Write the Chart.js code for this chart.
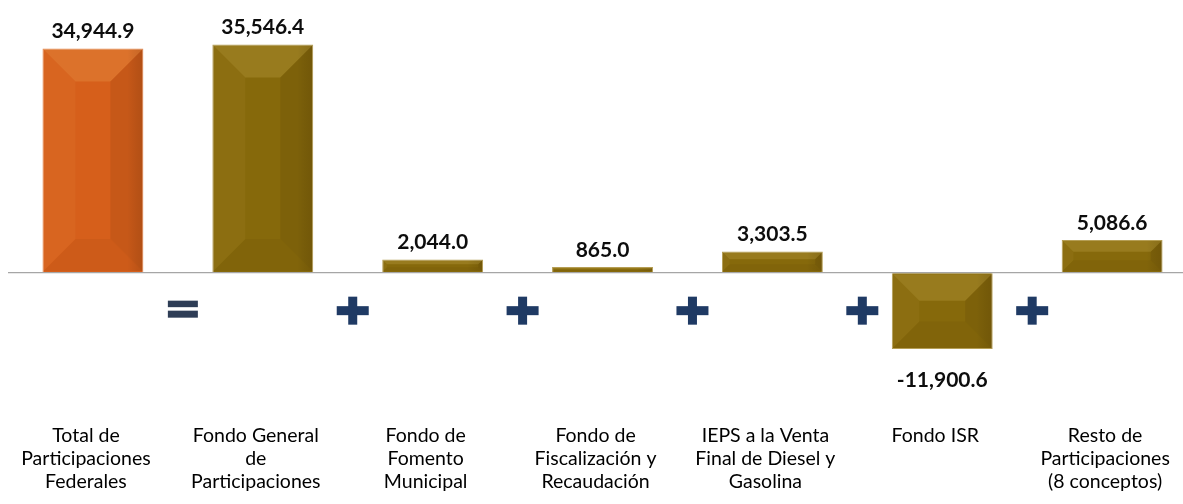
<!DOCTYPE html>
<html><head><meta charset="utf-8">
<script src="https://cdn.jsdelivr.net/npm/chart.js@4.4.1/dist/chart.umd.min.js"></script>
<style>
html,body{margin:0;padding:0;background:#fff;overflow:hidden;width:1183px;height:504px}
#wrap{position:absolute;left:0;top:0;width:1200px;height:504px}
</style></head>
<body><div id="wrap"><canvas id="c" width="1200" height="504"></canvas></div>
<script>
const categories = [
  ['Total de', 'Participaciones', 'Federales'],
  ['Fondo General', 'de', 'Participaciones'],
  ['Fondo de', 'Fomento', 'Municipal'],
  ['Fondo de', 'Fiscalización y', 'Recaudación'],
  ['IEPS a la Venta', 'Final de Diesel y', 'Gasolina'],
  ['Fondo ISR'],
  ['Resto de', 'Participaciones', '(8 conceptos)']
];
const values = [34944.9, 35546.4, 2044.0, 865.0, 3303.5, -11900.6, 5086.6];
const operators = ['=', '+', '+', '+', '+', '+'];
const yMin = -20000, yMax = 40000;

const ORANGE = '#D65F1B', GOLD = '#86690B';
const barColors = values.map((v, i) => i === 0 ? ORANGE : GOLD);
const barBorders = values.map((v, i) => i === 0 ? '#E5864C' : '#B59E55');

const fmt = v => v.toLocaleString('en-US', {minimumFractionDigits: 1, maximumFractionDigits: 1});

const bevelPlugin = {
  id: 'bevel',
  afterDatasetsDraw(chart) {
    const ctx = chart.ctx;
    const meta = chart.getDatasetMeta(0);
    meta.data.forEach((bar) => {
      const p = bar.getProps(['x', 'y', 'base', 'width'], true);
      const l = p.x - p.width / 2 + 1, r = p.x + p.width / 2 - 1;
      const t = Math.min(p.y, p.base) + 1, b = Math.max(p.y, p.base) - 1;
      const h = b - t;
      const bv = Math.min(h * 0.36, 32, p.width / 2);
      const poly = (pts, color) => {
        ctx.beginPath();
        ctx.moveTo(pts[0][0], pts[0][1]);
        for (let k = 1; k < pts.length; k++) ctx.lineTo(pts[k][0], pts[k][1]);
        ctx.closePath();
        ctx.fillStyle = color;
        ctx.fill();
      };
      ctx.save();
      poly([[l, t], [r, t], [r - bv, t + bv], [l + bv, t + bv]], 'rgba(255,225,140,0.15)');
      poly([[l, t], [l + bv, t + bv], [l + bv, b - bv], [l, b]], 'rgba(255,225,140,0.05)');
      poly([[r, t], [r, b], [r - bv, b - bv], [r - bv, t + bv]], 'rgba(40,20,0,0.09)');
      poly([[l, b], [l + bv, b - bv], [r - bv, b - bv], [r, b]], 'rgba(40,20,0,0.05)');
      const g = ctx.createLinearGradient(l, 0, r, 0);
      g.addColorStop(0, 'rgba(0,0,0,0)');
      g.addColorStop(0.85, 'rgba(0,0,0,0)');
      g.addColorStop(1, 'rgba(40,20,0,0.12)');
      ctx.fillStyle = g;
      ctx.fillRect(l, t, r - l, b - t);
      ctx.restore();
    });
  }
};

const labelPlugin = {
  id: 'valueLabels',
  afterDatasetsDraw(chart) {
    const ctx = chart.ctx;
    const meta = chart.getDatasetMeta(0);
    ctx.save();
    ctx.font = 'bold 21px Lato';
    ctx.fillStyle = '#0D0D0D';
    ctx.textAlign = 'center';
    ctx.textBaseline = 'middle';
    meta.data.forEach((bar, i) => {
      const v = values[i];
      const p = bar.getProps(['x', 'y'], true);
      const yy = v >= 0 ? p.y - 17 : p.y + 31;
      ctx.fillText(fmt(v), p.x, yy);
    });
    ctx.restore();
  }
};

const opPlugin = {
  id: 'operators',
  afterDatasetsDraw(chart) {
    const ctx = chart.ctx;
    const xs = chart.scales.x, ys = chart.scales.y;
    const yc = ys.getPixelForValue(0) + 38;
    ctx.save();
    operators.forEach((op, i) => {
      const xc = (xs.getPixelForValue(i) + xs.getPixelForValue(i + 1)) / 2 + 5;
      if (op === '=') {
        ctx.fillStyle = '#2E3D56';
        ctx.fillRect(xc - 15, yc - 10, 30, 6.5);
        ctx.fillRect(xc - 15, yc, 30, 7);
      } else {
        ctx.fillStyle = '#1F3A64';
        ctx.fillRect(xc - 16, yc - 4.5, 32, 9);
        ctx.fillRect(xc - 4.5, yc - 14, 9, 28);
      }
    });
    ctx.restore();
  }
};

new Chart(document.getElementById('c'), {
  type: 'bar',
  data: {
    labels: categories,
    datasets: [{
      data: values,
      backgroundColor: barColors,
      borderColor: barBorders,
      borderWidth: 1,
      barPercentage: 0.594,
      categoryPercentage: 1
    }]
  },
  options: {
    responsive: false,
    animation: false,
    devicePixelRatio: 1,
    layout: {padding: {top: 16, bottom: 11, left: 8, right: 2}},
    plugins: {legend: {display: false}, tooltip: {enabled: false}, title: {display: false}},
    scales: {
      x: {
        grid: {display: false, drawTicks: false},
        border: {display: false},
        afterFit: s => { s.height = 92; },
        ticks: {
          color: '#000',
          font: {family: 'Lato', size: 19.5, lineHeight: '23px'},
          padding: 23,
          labelOffset: -7,
          maxRotation: 0,
          minRotation: 0,
          autoSkip: false
        }
      },
      y: {
        min: yMin,
        max: yMax,
        border: {display: false},
        grid: {
          drawTicks: false,
          color: c => c.tick && c.tick.value === 0 ? '#A6A6A6' : 'rgba(0,0,0,0)',
          lineWidth: 1.3
        },
        ticks: {display: false, stepSize: 10000}
      }
    }
  },
  plugins: [bevelPlugin, labelPlugin, opPlugin]
});
</script>
</body></html>
